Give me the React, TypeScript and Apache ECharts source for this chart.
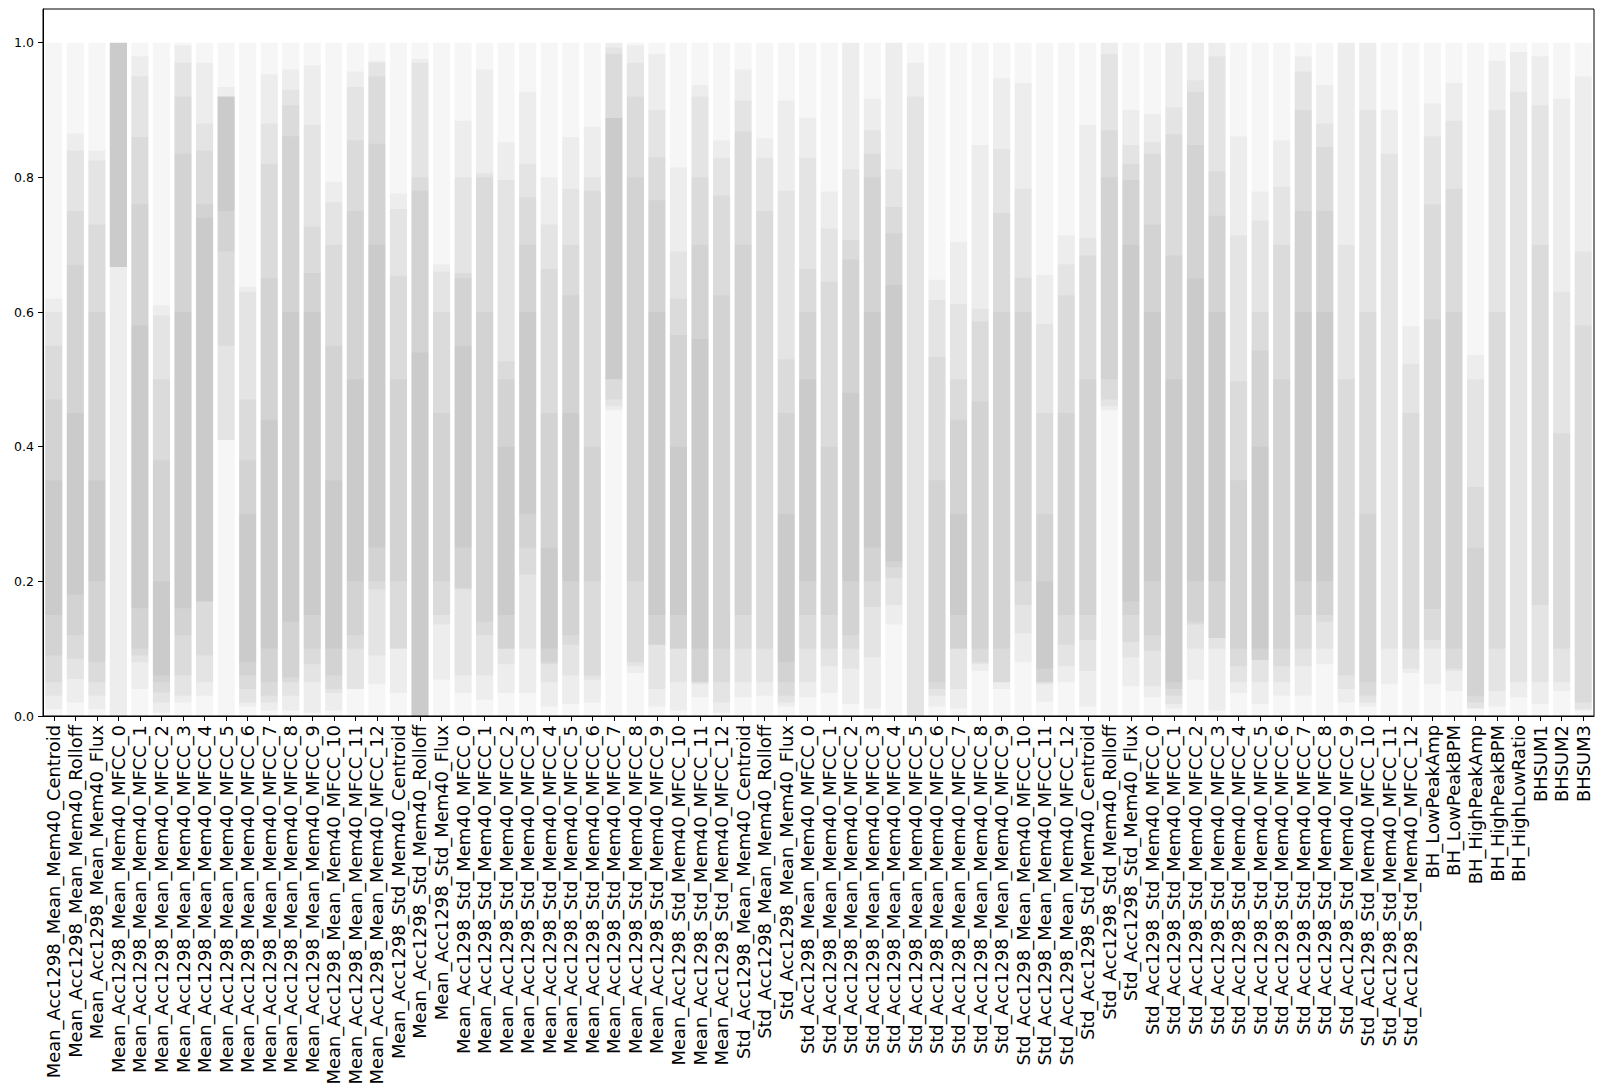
import React, { useEffect, useRef } from 'react';
import * as echarts from 'echarts';

const categories = [
  'Mean_Acc1298_Mean_Mem40_Centroid', 'Mean_Acc1298_Mean_Mem40_Rolloff', 'Mean_Acc1298_Mean_Mem40_Flux',
  'Mean_Acc1298_Mean_Mem40_MFCC_0', 'Mean_Acc1298_Mean_Mem40_MFCC_1', 'Mean_Acc1298_Mean_Mem40_MFCC_2',
  'Mean_Acc1298_Mean_Mem40_MFCC_3', 'Mean_Acc1298_Mean_Mem40_MFCC_4', 'Mean_Acc1298_Mean_Mem40_MFCC_5',
  'Mean_Acc1298_Mean_Mem40_MFCC_6', 'Mean_Acc1298_Mean_Mem40_MFCC_7', 'Mean_Acc1298_Mean_Mem40_MFCC_8',
  'Mean_Acc1298_Mean_Mem40_MFCC_9', 'Mean_Acc1298_Mean_Mem40_MFCC_10', 'Mean_Acc1298_Mean_Mem40_MFCC_11',
  'Mean_Acc1298_Mean_Mem40_MFCC_12', 'Mean_Acc1298_Std_Mem40_Centroid', 'Mean_Acc1298_Std_Mem40_Rolloff',
  'Mean_Acc1298_Std_Mem40_Flux', 'Mean_Acc1298_Std_Mem40_MFCC_0', 'Mean_Acc1298_Std_Mem40_MFCC_1',
  'Mean_Acc1298_Std_Mem40_MFCC_2', 'Mean_Acc1298_Std_Mem40_MFCC_3', 'Mean_Acc1298_Std_Mem40_MFCC_4',
  'Mean_Acc1298_Std_Mem40_MFCC_5', 'Mean_Acc1298_Std_Mem40_MFCC_6', 'Mean_Acc1298_Std_Mem40_MFCC_7',
  'Mean_Acc1298_Std_Mem40_MFCC_8', 'Mean_Acc1298_Std_Mem40_MFCC_9', 'Mean_Acc1298_Std_Mem40_MFCC_10',
  'Mean_Acc1298_Std_Mem40_MFCC_11', 'Mean_Acc1298_Std_Mem40_MFCC_12', 'Std_Acc1298_Mean_Mem40_Centroid',
  'Std_Acc1298_Mean_Mem40_Rolloff', 'Std_Acc1298_Mean_Mem40_Flux', 'Std_Acc1298_Mean_Mem40_MFCC_0',
  'Std_Acc1298_Mean_Mem40_MFCC_1', 'Std_Acc1298_Mean_Mem40_MFCC_2', 'Std_Acc1298_Mean_Mem40_MFCC_3',
  'Std_Acc1298_Mean_Mem40_MFCC_4', 'Std_Acc1298_Mean_Mem40_MFCC_5', 'Std_Acc1298_Mean_Mem40_MFCC_6',
  'Std_Acc1298_Mean_Mem40_MFCC_7', 'Std_Acc1298_Mean_Mem40_MFCC_8', 'Std_Acc1298_Mean_Mem40_MFCC_9',
  'Std_Acc1298_Mean_Mem40_MFCC_10', 'Std_Acc1298_Mean_Mem40_MFCC_11', 'Std_Acc1298_Mean_Mem40_MFCC_12',
  'Std_Acc1298_Std_Mem40_Centroid', 'Std_Acc1298_Std_Mem40_Rolloff', 'Std_Acc1298_Std_Mem40_Flux',
  'Std_Acc1298_Std_Mem40_MFCC_0', 'Std_Acc1298_Std_Mem40_MFCC_1', 'Std_Acc1298_Std_Mem40_MFCC_2',
  'Std_Acc1298_Std_Mem40_MFCC_3', 'Std_Acc1298_Std_Mem40_MFCC_4', 'Std_Acc1298_Std_Mem40_MFCC_5',
  'Std_Acc1298_Std_Mem40_MFCC_6', 'Std_Acc1298_Std_Mem40_MFCC_7', 'Std_Acc1298_Std_Mem40_MFCC_8',
  'Std_Acc1298_Std_Mem40_MFCC_9', 'Std_Acc1298_Std_Mem40_MFCC_10', 'Std_Acc1298_Std_Mem40_MFCC_11',
  'Std_Acc1298_Std_Mem40_MFCC_12', 'BH_LowPeakAmp', 'BH_LowPeakBPM', 'BH_HighPeakAmp', 'BH_HighPeakBPM',
  'BH_HighLowRatio', 'BHSUM1', 'BHSUM2', 'BHSUM3',
];

const yTicks = [0, 0.2, 0.4, 0.6, 0.8, 1.0];

// faint full-range layer (every feature spans 0..1)
const baseHigh = [
  1, 1, 1, 1, 1, 1, 1, 1, 1, 1, 1, 1,
  1, 1, 1, 1, 1, 1, 1, 1, 1, 1, 1, 1,
  1, 1, 1, 1, 1, 1, 1, 1, 1, 1, 1, 1,
  1, 1, 1, 1, 1, 1, 1, 1, 1, 1, 1, 1,
  1, 1, 1, 1, 1, 1, 1, 1, 1, 1, 1, 1,
  1, 1, 1, 1, 1, 1, 1, 1, 1, 1, 1, 1,
];

const level1Low = [
  0.01, 0.02, 0.01, 0, 0.04, 0.005, 0.02, 0.03, 0.41, 0.014, 0.008, 0.008,
  0.005, 0.008, 0.04, 0.047, 0.034, 0, 0.054, 0.034, 0.024, 0.034, 0.034, 0.014,
  0.018, 0.02, 0.454, 0.064, 0.014, 0.008, 0.028, 0.005, 0.028, 0.03, 0.014, 0.028,
  0.034, 0.018, 0.011, 0.136, 0, 0.014, 0.011, 0.067, 0.04, 0.08, 0.021, 0.05,
  0.014, 0.454, 0.044, 0.028, 0.011, 0.054, 0.008, 0.034, 0.018, 0.03, 0.03, 0.077,
  0.02, 0.014, 0.047, 0.064, 0.047, 0.037, 0.011, 0.014, 0.028, 0.018, 0.037, 0.008,
];
const level1High = [
  0.62, 0.865, 0.84, 1, 0.98, 0.61, 0.996, 0.97, 0.934, 0.638, 0.953, 0.96,
  0.966, 0.793, 0.957, 0.973, 0.776, 0.976, 0.671, 0.884, 0.96, 0.852, 0.927, 0.8,
  0.86, 0.875, 1, 0.996, 0.983, 0.815, 0.937, 0.855, 0.96, 0.858, 0.914, 0.888,
  0.779, 1, 0.917, 1, 0.97, 0.648, 0.704, 0.848, 0.947, 0.94, 0.655, 0.714,
  0.878, 1, 0.9, 0.894, 1, 1, 1, 0.861, 0.779, 0.855, 0.98, 0.937,
  1, 1, 0.9, 0.579, 0.91, 0.94, 0.536, 0.973, 0.986, 0.98, 0.917, 0.95,
];

const level2Low = [
  0.03, 0.055, 0.03, 0.667, 0.08, 0.02, 0.03, 0.05, 0.41, 0.02, 0.02, 0.03,
  0.05, 0.034, 0.04, 0.09, 0.1, 0, 0.136, 0.06, 0.06, 0.077, 0.1, 0.05,
  0.06, 0.054, 0.46, 0.074, 0.04, 0.05, 0.047, 0.02, 0.05, 0.05, 0.02, 0.05,
  0.074, 0.07, 0.087, 0.165, 0, 0.03, 0.04, 0.077, 0.05, 0.123, 0.047, 0.074,
  0.067, 0.46, 0.087, 0.044, 0.018, 0.1, 0.1, 0.05, 0.05, 0.05, 0.074, 0.1,
  0.04, 0.02, 0.1, 0.07, 0.1, 0.067, 0.011, 0.037, 0.05, 0.05, 0.05, 0.01,
];
const level2High = [
  0.6, 0.84, 0.825, 1, 0.95, 0.595, 0.97, 0.88, 0.92, 0.63, 0.88, 0.93,
  0.878, 0.763, 0.934, 0.97, 0.753, 0.97, 0.66, 0.8, 0.806, 0.796, 0.82, 0.73,
  0.783, 0.8, 0.993, 0.97, 0.9, 0.69, 0.92, 0.829, 0.914, 0.829, 0.78, 0.829,
  0.724, 0.812, 0.87, 0.812, 0.92, 0.618, 0.612, 0.605, 0.842, 0.783, 0.582, 0.671,
  0.71, 0.983, 0.848, 0.852, 0.904, 0.944, 0.98, 0.714, 0.736, 0.786, 0.957, 0.88,
  0.7, 0.9, 0.835, 0.523, 0.861, 0.884, 0.5, 0.9, 0.927, 0.907, 0.63, 0.69,
];

const level3Low = [
  0.05, 0.085, 0.05, 0.667, 0.09, 0.035, 0.06, 0.09, 0.55, 0.04, 0.03, 0.05,
  0.077, 0.04, 0.1, 0.188, 0.1, 0, 0.15, 0.188, 0.12, 0.1, 0.21, 0.077,
  0.106, 0.06, 0.47, 0.08, 0.106, 0.1, 0.05, 0.05, 0.1, 0.1, 0.03, 0.1,
  0.1, 0.1, 0.162, 0.205, null, 0.04, 0.1, 0.08, 0.05, 0.165, 0.05, 0.106,
  0.113, 0.47, 0.11, 0.097, 0.03, 0.136, 0.116, 0.074, 0.083, 0.074, 0.1, 0.14,
  0.06, 0.03, null, 0.1, 0.113, 0.07, 0.02, 0.1, null, 0.165, 0.1, 0.02,
];
const level3High = [
  0.55, 0.75, 0.73, 1, 0.86, 0.5, 0.92, 0.84, 0.92, 0.47, 0.82, 0.907,
  0.727, 0.7, 0.855, 0.95, 0.654, 0.8, 0.6, 0.658, 0.8, 0.527, 0.77, 0.664,
  0.7, 0.78, 0.983, 0.92, 0.83, 0.62, 0.8, 0.773, 0.868, 0.75, 0.53, 0.664,
  0.645, 0.707, 0.835, 0.756, null, 0.533, 0.5, 0.586, 0.747, 0.651, 0.45, 0.625,
  0.684, 0.87, 0.82, 0.835, 0.864, 0.927, 0.809, 0.497, 0.6, 0.7, 0.9, 0.845,
  0.5, 0.6, null, 0.45, 0.76, 0.783, 0.34, 0.6, null, 0.7, 0.42, 0.58,
];

const level4Low = [
  0.09, 0.12, 0.08, 0.667, 0.1, 0.05, 0.12, 0.17, 0.69, 0.06, 0.05, 0.057,
  0.1, 0.06, 0.12, 0.2, 0.2, 0, 0.2, 0.19, 0.14, 0.1, 0.25, 0.08,
  0.12, 0.2, 0.5, 0.2, 0.106, 0.1, 0.05, 0.1, 0.15, null, 0.05, 0.15,
  0.15, 0.12, 0.2, 0.221, null, 0.05, 0.1, 0.1, 0.1, 0.2, 0.05, 0.15,
  0.15, 0.5, 0.15, 0.12, 0.04, 0.14, 0.116, 0.1, 0.083, 0.1, 0.15, 0.15,
  null, 0.05, null, null, 0.159, 0.1, 0.03, null, null, null, null, null,
];
const level4High = [
  0.47, 0.67, 0.6, 1, 0.76, 0.38, 0.835, 0.76, 0.92, 0.38, 0.65, 0.861,
  0.658, 0.55, 0.75, 0.85, 0.5, 0.78, 0.45, 0.65, 0.6, 0.5, 0.7, 0.45,
  0.625, 0.4, 0.888, 0.8, 0.766, 0.566, 0.7, 0.625, 0.7, null, 0.45, 0.6,
  0.4, 0.678, 0.8, 0.717, null, 0.35, 0.44, 0.467, 0.6, 0.6, 0.3, 0.45,
  0.5, 0.8, 0.796, 0.73, 0.684, 0.848, 0.743, 0.35, 0.543, 0.5, 0.75, 0.75,
  null, 0.3, null, null, 0.589, 0.6, 0.25, null, null, null, null, null,
];

const level5Low = [
  0.15, 0.18, 0.2, 0.667, 0.16, 0.06, 0.16, 0.17, 0.75, 0.08, 0.1, 0.14,
  0.15, 0.1, 0.2, 0.25, null, 0, null, 0.25, null, 0.15, 0.3, 0.1,
  0.2, null, 0.5, null, 0.15, 0.15, 0.1, null, null, null, 0.08, 0.2,
  null, 0.2, 0.25, 0.23, null, null, 0.15, null, null, null, 0.07, null,
  null, null, 0.17, 0.2, 0.05, 0.2, 0.2, null, 0.1, null, 0.2, 0.2,
  null, null, null, null, null, null, null, null, null, null, null, null,
];
const level5High = [
  0.35, 0.45, 0.35, 1, 0.58, 0.2, 0.6, 0.74, 0.92, 0.3, 0.44, 0.6,
  0.6, 0.35, 0.5, 0.7, null, 0.54, null, 0.55, null, 0.4, 0.6, 0.25,
  0.45, null, 0.888, null, 0.6, 0.4, 0.56, null, null, null, 0.3, 0.5,
  null, 0.48, 0.6, 0.64, null, null, 0.3, null, null, null, 0.2, null,
  null, null, 0.7, 0.6, 0.5, 0.65, 0.6, null, 0.4, null, 0.6, 0.6,
  null, null, null, null, null, null, null, null, null, null, null, null,
];

const layerColor = 'rgba(0,0,0,0.035)';

const levels: [(number | null)[], (number | null)[]][] = [
  [level1Low, level1High],
  [level2Low, level2High],
  [level3Low, level3High],
  [level4Low, level4High],
  [level5Low, level5High],
];

function buildSeries() {
  const common = { type: 'bar', barWidth: '80%', barGap: '-100%', silent: true };
  const series: any[] = [
    { ...common, name: 'base', data: baseHigh, itemStyle: { color: layerColor } },
  ];
  levels.forEach(([lo, hi], k) => {
    series.push({
      ...common,
      stack: 'lvl' + k,
      data: lo.map((v) => (v == null ? '-' : v)),
      itemStyle: { color: 'rgba(0,0,0,0)' },
    });
    series.push({
      ...common,
      stack: 'lvl' + k,
      data: hi.map((v, i) => {
        const l = lo[i];
        return v == null || l == null ? '-' : +(v - l).toFixed(4);
      }),
      itemStyle: { color: layerColor },
    });
  });
  return series;
}

export default function App() {
  const ref = useRef<HTMLDivElement>(null);
  useEffect(() => {
    if (!ref.current) return;
    const chart = echarts.init(ref.current, null, { renderer: 'svg' });
    chart.setOption({
      animation: false,
      backgroundColor: '#ffffff',
      textStyle: { fontFamily: 'DejaVu Sans' },
      grid: {
        left: 43,
        right: 7,
        top: 9,
        bottom: 367,
        show: true,
        borderColor: '#000',
        borderWidth: 1,
        backgroundColor: 'transparent',
        containLabel: false,
        outerBoundsMode: 'none',
      },
      xAxis: {
        type: 'category',
        data: categories,
        boundaryGap: true,
        axisLine: { show: true, lineStyle: { color: '#000', width: 1 } },
        axisTick: { show: true, alignWithLabel: true, length: 5, lineStyle: { color: '#000' } },
        axisLabel: {
          interval: 0,
          rotate: 90,
          margin: 9,
          color: '#000',
          fontSize: 17.9,
          fontFamily: 'DejaVu Sans',
        },
        splitLine: { show: false },
      },
      yAxis: {
        type: 'value',
        min: 0,
        max: 1.05,
        axisLine: { show: true, lineStyle: { color: '#000', width: 1 } },
        axisTick: { show: true, length: 5, lineStyle: { color: '#000' }, customValues: yTicks },
        axisLabel: {
          customValues: yTicks,
          formatter: (v: number) => v.toFixed(1),
          margin: 9,
          color: '#000',
          fontSize: 12.5,
          fontFamily: 'DejaVu Sans',
        },
        splitLine: { show: false },
      },
      series: buildSeries(),
    });
    return () => chart.dispose();
  }, []);
  return (
    <div
      ref={ref}
      style={{ position: 'fixed', left: 0, top: 0, width: 1601, height: 1083, background: '#fff' }}
    />
  );
}
